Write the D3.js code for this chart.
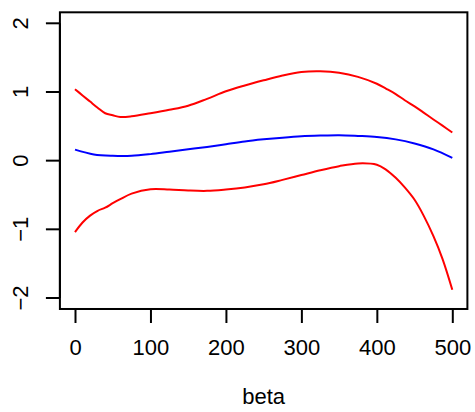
<!DOCTYPE html>
<html><head><meta charset="utf-8">
<script src="https://cdn.jsdelivr.net/npm/d3@7"></script>
<style>body{margin:0;background:#fff}svg{display:block}</style>
</head><body>
<script>
const beta = [0,10,20,30,40,50,60,75,100,125,150,175,200,225,250,275,300,325,350,375,400,412,425,437,450,462,475,487,500];
const upper = [1.04,0.95,0.86,0.77,0.69,0.66,0.635,0.645,0.69,0.74,0.80,0.90,1.01,1.095,1.17,1.24,1.29,1.30,1.28,1.22,1.12,1.05,0.97,0.88,0.79,0.70,0.60,0.51,0.41];
const lower = [-1.04,-0.90,-0.80,-0.73,-0.685,-0.62,-0.56,-0.48,-0.415,-0.42,-0.435,-0.44,-0.42,-0.39,-0.345,-0.28,-0.21,-0.14,-0.08,-0.04,-0.06,-0.13,-0.25,-0.39,-0.57,-0.80,-1.10,-1.43,-1.88];
const betaMid = [0,25,50,75,100,125,150,175,200,225,250,275,300,325,350,375,400,425,450,475,500];
const mean = [0.16,0.09,0.07,0.07,0.095,0.13,0.165,0.20,0.24,0.28,0.31,0.335,0.355,0.365,0.37,0.36,0.345,0.31,0.25,0.165,0.04];
const xTicks = [0,100,200,300,400,500];
const yTicks = [-2,-1,0,1,2];
const xLabel = "beta";

const W = 475, H = 412;
const svg = d3.select("body").append("svg").attr("width", W).attr("height", H);
const font = "Liberation Sans, Arial, Helvetica, sans-serif";

// R-style 4% extended ranges
const x = d3.scaleLinear().domain([0, 500]).range([75, 452.3]);
const y = d3.scaleLinear().domain([-2, 2]).range([298, 23.3]);
const x0 = x(-20), x1 = x(520), y0 = y(-2.16), y1 = y(2.16);

svg.append("rect").attr("x", x0).attr("y", y1).attr("width", x1 - x0).attr("height", y0 - y1)
  .attr("fill", "none").attr("stroke", "#000").attr("stroke-width", 2);

const xa = d3.axisBottom(x).tickValues(xTicks).tickSize(14).tickSizeOuter(0).tickPadding(16);
const gx = svg.append("g").attr("transform", `translate(0,${y0})`).call(xa);
gx.selectAll("path,line").attr("stroke", "#000").attr("stroke-width", 2);
gx.selectAll("text").attr("font-family", font).attr("font-size", 22).attr("fill", "#000");

const ya = d3.axisLeft(y).tickValues(yTicks).tickSize(14).tickSizeOuter(0).tickFormat(d => d < 0 ? "\u2212" + Math.abs(d) : d);
const gy = svg.append("g").attr("transform", `translate(${x0},0)`).call(ya);
gy.selectAll("path,line").attr("stroke", "#000").attr("stroke-width", 2);
gy.selectAll("text").attr("font-family", font).attr("font-size", 22).attr("fill", "#000")
  .attr("transform", "rotate(-90)").attr("text-anchor", "middle")
  .attr("x", d => -y(d)).attr("y", -32).attr("dy", 0);
gy.selectAll(".tick").attr("transform", null).each(function(d){
  d3.select(this).select("line").attr("y1", y(d)).attr("y2", y(d));
});
gy.select(".domain").attr("d", `M0,${y(-2)}V${y(2)}`);
gx.select(".domain").attr("d", `M${x(0)},0H${x(500)}`);

svg.append("text").attr("x", (x0 + x1) / 2).attr("y", 404).attr("text-anchor", "middle")
  .attr("font-family", font).attr("font-size", 22).attr("fill", "#000").text(xLabel);

const line = d3.line().curve(d3.curveCatmullRom.alpha(0.5));
function draw(xs, ys, color) {
  svg.append("path").attr("d", line(xs.map((v, i) => [x(v), y(ys[i])])))
    .attr("fill", "none").attr("stroke", color).attr("stroke-width", 2);
}
draw(beta, upper, "#ff0000");
draw(beta, lower, "#ff0000");
draw(betaMid, mean, "#0000ff");
</script>
</body></html>
